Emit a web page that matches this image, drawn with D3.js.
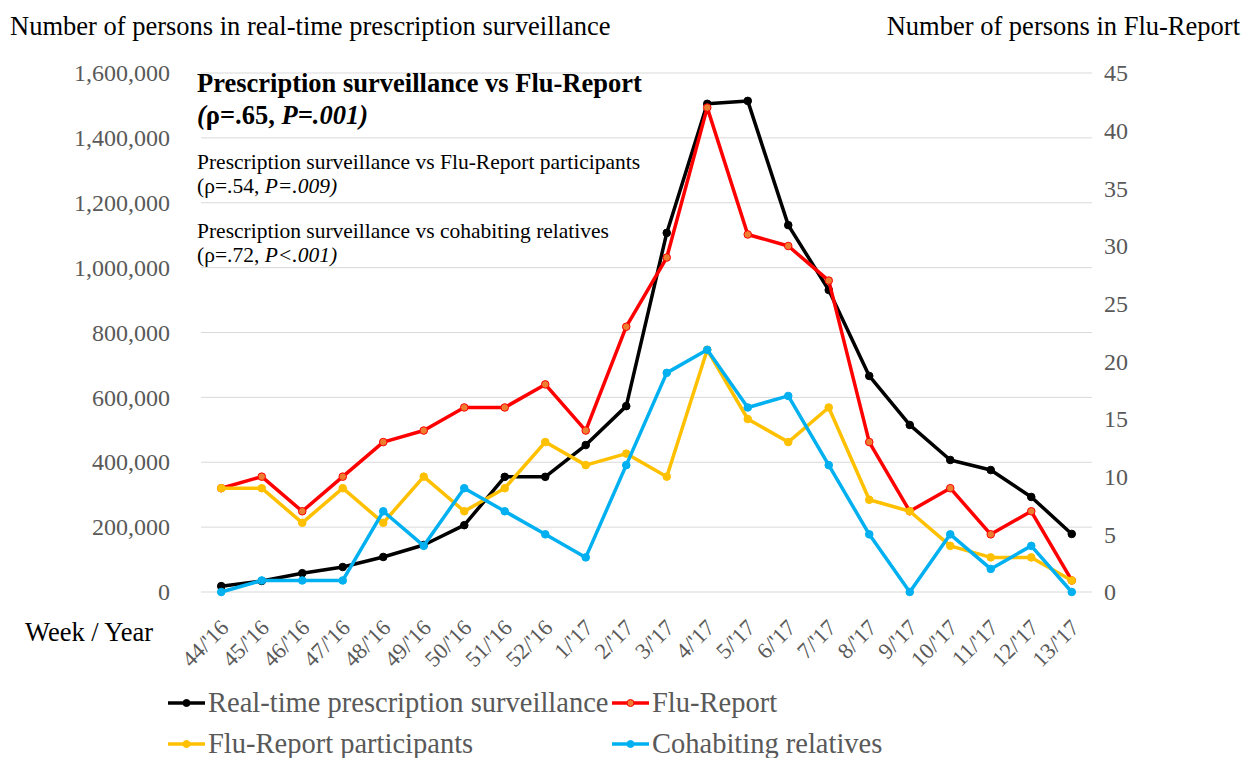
<!DOCTYPE html>
<html>
<head>
<meta charset="utf-8">
<script src="https://cdn.jsdelivr.net/npm/d3@7"></script>
<style>
  body { margin: 0; background: #fff; }
  text { font-family: "Liberation Serif", "Times New Roman", serif; }
</style>
</head>
<body>
<svg id="chart" width="1252" height="758"></svg>
<script>
// week labels
var weeks = ["44/'16", "45/'16", "46/'16", "47/'16", "48/'16", "49/'16", "50/'16", "51/'16", "52/'16",
    "1/'17", "2/'17", "3/'17", "4/'17", "5/'17", "6/'17", "7/'17", "8/'17", "9/'17", "10/'17", "11/'17", "12/'17", "13/'17"];

// left axis series
var prescription = [18000, 34000, 58000, 77000, 108000, 145000, 206000, 355000, 355000, 453000, 573000,
    1107000, 1505000, 1514000, 1131000, 931000, 666000, 515000, 407000, 376000, 293000, 179000];

// right axis series
var fluReport = [9, 10, 7, 10, 13, 14, 16, 16, 18, 14, 23, 29, 42, 31, 30, 27, 13, 7, 9, 5, 7, 1];
var participants = [9, 9, 6, 9, 6, 10, 7, 9, 13, 11, 12, 10, 21, 15, 13, 16, 8, 7, 4, 3, 3, 1];
var relatives = [0, 1, 1, 1, 7, 4, 9, 7, 5, 3, 11, 19, 21, 16, 17, 11, 5, 0, 5, 2, 4, 0];

var leftTicks = [0, 200000, 400000, 600000, 800000, 1000000, 1200000, 1400000, 1600000];
var rightTicks = [0, 5, 10, 15, 20, 25, 30, 35, 40, 45];

var svg = d3.select('#chart');
var plotLeft = 201, plotRight = 1092, plotTop = 73, plotBottom = 592;

var x = d3.scaleBand().domain(weeks).range([plotLeft, plotRight]);
var yL = d3.scaleLinear().domain([0, 1600000]).range([plotBottom, plotTop]);
var yR = d3.scaleLinear().domain([0, 45]).range([plotBottom, plotTop]);
var fmt = d3.format(',');
var tickGray = '#595959';

// gridlines
svg.append('g')
    .selectAll('line')
    .data(leftTicks).enter()
    .append('line')
    .attr('x1', plotLeft).attr('x2', plotRight)
    .attr('y1', function(d){ return yL(d); })
    .attr('y2', function(d){ return yL(d); })
    .attr('stroke', '#d9d9d9')
    .attr('stroke-width', 1);

// left axis
var gL = svg.append('g')
    .attr('transform', 'translate(' + (plotLeft - 31) + ',0)')
    .call(d3.axisLeft(yL).tickValues(leftTicks).tickFormat(fmt).tickSize(0).tickPadding(0));
gL.select('.domain').remove();
gL.selectAll('text')
    .attr('fill', tickGray)
    .style('font-size', '24px')
    .style('font-family', '"Liberation Serif", serif');

// right axis
var gR = svg.append('g')
    .attr('transform', 'translate(' + (plotRight + 12) + ',0)')
    .call(d3.axisRight(yR).tickValues(rightTicks).tickSize(0).tickPadding(0));
gR.select('.domain').remove();
gR.selectAll('text')
    .attr('fill', tickGray)
    .style('font-size', '24px')
    .style('font-family', '"Liberation Serif", serif');

// x axis labels
var gX = svg.append('g')
    .attr('transform', 'translate(0,' + (plotBottom + 14) + ')')
    .call(d3.axisBottom(x).tickSize(0).tickPadding(0));
gX.select('.domain').remove();
gX.selectAll('text')
    .attr('fill', tickGray)
    .style('font-size', '22.5px')
    .style('font-family', '"Liberation Serif", serif')
    .style('text-anchor', 'end')
    .attr('dx', '-0.45em')
    .attr('dy', '1em')
    .attr('transform', 'rotate(-45)');

// axis titles
svg.append('text')
    .attr('x', 10).attr('y', 35)
    .style('font-size', '26.5px')
    .text('Number of persons in real-time prescription surveillance');
svg.append('text')
    .attr('x', 1240).attr('y', 35)
    .attr('text-anchor', 'end')
    .style('font-size', '26.5px')
    .text('Number of persons in Flu-Report');
svg.append('text')
    .attr('x', 25).attr('y', 641)
    .style('font-size', '26.5px')
    .text('Week / Year');

// series
var series = [
    {name: 'Real-time prescription surveillance', values: prescription, y: yL, color: '#000000', fill: '#000000'},
    {name: 'Flu-Report', values: fluReport, y: yR, color: '#ff0000', fill: '#ed7d31'},
    {name: 'Flu-Report participants', values: participants, y: yR, color: '#ffc000', fill: '#ffc000'},
    {name: 'Cohabiting relatives', values: relatives, y: yR, color: '#00b0f0', fill: '#00b0f0'}
];

var cx = function(i){ return x(weeks[i]) + x.bandwidth() / 2; };

series.forEach(function(s) {
    var line = d3.line()
        .x(function(d, i){ return cx(i); })
        .y(function(d){ return s.y(d); });
    svg.append('path')
        .datum(s.values)
        .attr('d', line)
        .attr('fill', 'none')
        .attr('stroke', s.color)
        .attr('stroke-width', 3.5)
        .attr('stroke-linejoin', 'round');
    svg.append('g')
        .selectAll('circle')
        .data(s.values).enter()
        .append('circle')
        .attr('cx', function(d, i){ return cx(i); })
        .attr('cy', function(d){ return s.y(d); })
        .attr('r', 3.8)
        .attr('fill', s.fill)
        .attr('stroke', s.color)
        .attr('stroke-width', 1);
});

// legend
var legendPos = [[168, 703], [612, 703], [168, 744], [612, 744]];
series.forEach(function(s, i) {
    var p = legendPos[i];
    var g = svg.append('g').attr('transform', 'translate(' + p[0] + ',' + p[1] + ')');
    g.append('line')
        .attr('x1', 0).attr('x2', 37).attr('y1', 0).attr('y2', 0)
        .attr('stroke', s.color).attr('stroke-width', 3.5);
    g.append('circle')
        .attr('cx', 18.5).attr('cy', 0).attr('r', 3.5)
        .attr('fill', s.fill).attr('stroke', s.color).attr('stroke-width', 1);
    g.append('text')
        .attr('x', 40).attr('y', 9)
        .attr('fill', tickGray)
        .style('font-size', '28.5px')
        .text(s.name);
});

// correlation notes
var note = svg.append('g');
note.append('text')
    .attr('x', 197).attr('y', 92)
    .style('font-size', '26.5px')
    .style('font-weight', 'bold')
    .text('Prescription surveillance vs Flu-Report');
var t1 = note.append('text')
    .attr('x', 197).attr('y', 124)
    .style('font-size', '26.5px')
    .style('font-weight', 'bold');
t1.append('tspan').style('font-style', 'italic').text('(');
t1.append('tspan').text('ρ=.65, ');
t1.append('tspan').style('font-style', 'italic').text('P=.001)');

note.append('text')
    .attr('x', 197).attr('y', 169)
    .style('font-size', '21.5px')
    .text('Prescription surveillance vs Flu-Report participants');
var t2 = note.append('text')
    .attr('x', 197).attr('y', 193)
    .style('font-size', '21.5px');
t2.append('tspan').text('(ρ=.54, ');
t2.append('tspan').style('font-style', 'italic').text('P=.009)');

note.append('text')
    .attr('x', 197).attr('y', 238)
    .style('font-size', '21.5px')
    .text('Prescription surveillance vs cohabiting relatives');
var t3 = note.append('text')
    .attr('x', 197).attr('y', 262)
    .style('font-size', '21.5px');
t3.append('tspan').text('(ρ=.72, ');
t3.append('tspan').style('font-style', 'italic').text('P<.001)');
</script>
</body>
</html>
